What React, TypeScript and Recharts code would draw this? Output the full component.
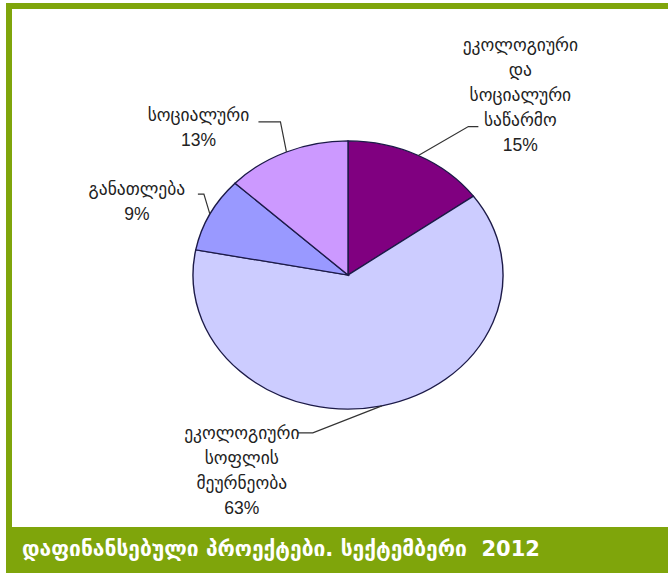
import React from 'react'
import { PieChart, Pie, Cell } from 'recharts'

// funded projects by area, September 2012 (shares in %)
const categories = [
  'ეკოლოგიური და სოციალური საწარმო',
  'ეკოლოგიური სოფლის მეურნეობა',
  'განათლება',
  'სოციალური',
]
const labelLines = [
  ['ეკოლოგიური', 'და', 'სოციალური', 'საწარმო'],
  ['ეკოლოგიური', 'სოფლის', 'მეურნეობა'],
  ['განათლება'],
  ['სოციალური'],
]
const shares = [15, 63, 9, 13]
const colours = ['#800080', '#CCCCFF', '#9999FF', '#CC99FF']
const title = 'დაფინანსებული პროექტები. სექტემბერი  2012'

const data = categories.map((name, i) => ({ name, value: shares[i] }))

const GREEN = '#7FA50B'
const SQUASH = 0.865 // the original pie is drawn as a flat ellipse
const RAD = Math.PI / 180

// leader line elbow (from the rim point), horizontal stub, text centre (from the rim point)
const labelLayout = [
  { ex: 50, ey: -29, hx: 10, tx: 102, ty: -111 },
  { ex: -69, ey: 27, hx: -15, tx: -140, ty: 27 },
  { ex: -6, ey: -20, hx: -6, tx: -73, ty: -25 },
  { ex: -6, ey: -30, hx: -22, tx: -88, ty: -37 },
]

const LINE_H = 25

function renderLabel(props: any) {
  const { cx, cy, midAngle, outerRadius, index, value } = props
  const lay = labelLayout[index]
  const px = cx + outerRadius * Math.cos(-midAngle * RAD)
  const py = cy + outerRadius * SQUASH * Math.sin(-midAngle * RAD)
  const elx = px + lay.ex
  const ely = py + lay.ey
  const lines = [...labelLines[index], `${value}%`]
  const tx = px + lay.tx
  const ty = py + lay.ty
  return (
    <g key={`lbl-${index}`}>
      <polyline
        points={`${px},${py} ${elx},${ely} ${elx + lay.hx},${ely}`}
        fill="none"
        stroke="#333"
        strokeWidth={1.2}
      />
      {lines.map((t, i) => (
        <text
          key={i}
          x={tx}
          y={ty + i * LINE_H}
          textAnchor="middle"
          dominantBaseline="central"
          fontSize={17.5}
          fill="#222"
          fontFamily="'Liberation Sans', 'DejaVu Sans', sans-serif"
        >
          {t}
        </text>
      ))}
    </g>
  )
}

export default function App() {
  return (
    <div
      style={{
        position: 'relative',
        width: 668,
        height: 573,
        background: '#fff',
        overflow: 'hidden',
      }}
    >
      <style>{`
        body { margin: 0; }
        .eco-pie .recharts-pie-sector {
          transform-origin: 348px 275px;
          transform: scaleY(${SQUASH});
        }
      `}</style>
      <div
        style={{
          position: 'absolute',
          left: 6,
          top: 3,
          right: 0,
          bottom: 0,
          borderLeft: `6px solid ${GREEN}`,
          borderTop: `6px solid ${GREEN}`,
        }}
      />
      <div style={{ position: 'absolute', left: 0, top: 0 }}>
        <PieChart width={668} height={527} margin={{ top: 0, right: 0, bottom: 0, left: 0 }}>
          <Pie
            className="eco-pie"
            data={data}
            dataKey="value"
            nameKey="name"
            cx={348}
            cy={275}
            outerRadius={155}
            startAngle={90}
            endAngle={-270}
            stroke="#1c1a48"
            strokeWidth={1.4}
            label={renderLabel}
            labelLine={false}
            isAnimationActive={false}
          >
            {data.map((d, i) => (
              <Cell key={d.name} fill={colours[i]} />
            ))}
          </Pie>
        </PieChart>
      </div>
      <div
        style={{
          position: 'absolute',
          left: 6,
          top: 527,
          width: 662,
          height: 46,
          background: GREEN,
          color: '#fff',
          fontFamily: "'DejaVu Sans', sans-serif",
          fontWeight: 'bold',
          fontSize: 21,
          lineHeight: '44px',
          paddingLeft: 16,
          boxSizing: 'border-box',
          whiteSpace: 'pre',
        }}
      >
        {title}
      </div>
    </div>
  )
}
